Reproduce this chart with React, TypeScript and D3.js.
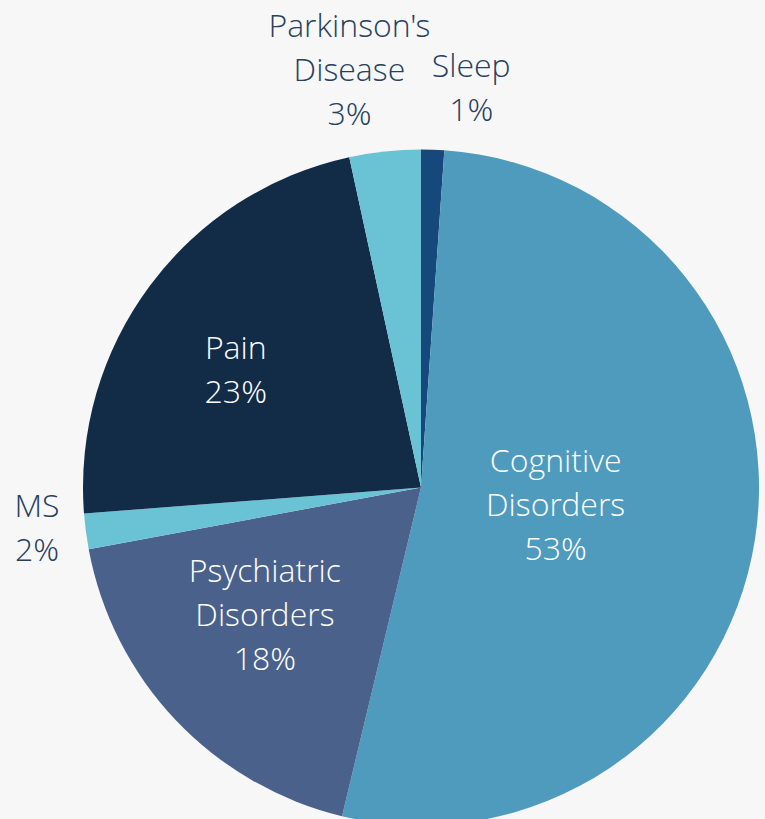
import React from 'react';
import * as d3 from 'd3';

// slice data, clockwise from 12 o'clock
const categories = ['Sleep', 'Cognitive Disorders', 'Psychiatric Disorders', 'MS', 'Pain', "Parkinson's Disease"];
const shares = [1.1, 52.6, 18.3, 1.7, 22.8, 3.4];
const percentLabels = ['1%', '53%', '18%', '2%', '23%', '3%'];
const labelLines = [['Sleep'], ['Cognitive', 'Disorders'], ['Psychiatric', 'Disorders'], ['MS'], ['Pain'], ["Parkinson's", 'Disease']];
const colors = ['#15497c', '#4f9bbd', '#4a628b', '#6ac3d4', '#122b47', '#6ac3d4'];

// label placement: inside labels sit at a fraction of the radius, outside ones outside the rim,
// then each gets a small nudge
const insideRadius = [0, 0.4, 0.6, 0, 0.65, 0];
const labelNudge: [number, number][] = [[38, -48], [1, -3], [-9, -12], [-35, -5], [-9, 13.5], [-34, -67]];

const width = 765;
const height = 819;
const cx = 421;
const cy = 487.5;
const radius = 338;
const lineHeight = 44;
const fontSize = 32;

const App = () => {
  const data = categories.map((c, i) => ({ name: c, value: shares[i], i }));
  const pie = d3.pie<any>().sort(null).value((d) => d.value);
  const arcs = pie(data);
  const arcGen = d3.arc<any>().innerRadius(0).outerRadius(radius);

  const polar = (angle: number, r: number): [number, number] => [
    cx + r * Math.sin(angle),
    cy - r * Math.cos(angle),
  ];

  return (
    <div style={{ position: 'fixed', left: 0, top: 0, width, height, background: '#f7f7f7', overflow: 'hidden' }}>
      <svg width={width} height={height} style={{ display: 'block' }}>
        <rect width={width} height={height} fill="#f7f7f7" />
        <g transform={`translate(${cx},${cy})`}>
          {arcs.map((a) => (
            <path key={a.data.name} d={arcGen(a) as string} fill={colors[a.data.i]} />
          ))}
        </g>
        {arcs.map((a) => {
          const i = a.data.i;
          const mid = (a.startAngle + a.endAngle) / 2;
          const lines = [...labelLines[i], percentLabels[i]];
          const inside = insideRadius[i] > 0;
          const [px, py] = polar(mid, inside ? radius * insideRadius[i] : radius + 14);
          const x = px + labelNudge[i][0];
          const y = py + labelNudge[i][1];
          const top = y - ((lines.length - 1) * lineHeight) / 2;
          return (
            <text
              key={'l' + i}
              x={x}
              textAnchor="middle"
              fill={inside ? '#ffffff' : '#26405e'}
              fontFamily="'Open Sans Light', 'Open Sans', sans-serif"
              fontWeight={300}
              fontSize={fontSize}
            >
              {lines.map((t, j) => (
                <tspan key={j} x={x} y={top + j * lineHeight} dy="0.34em">
                  {t}
                </tspan>
              ))}
            </text>
          );
        })}
      </svg>
    </div>
  );
};

export default App;
